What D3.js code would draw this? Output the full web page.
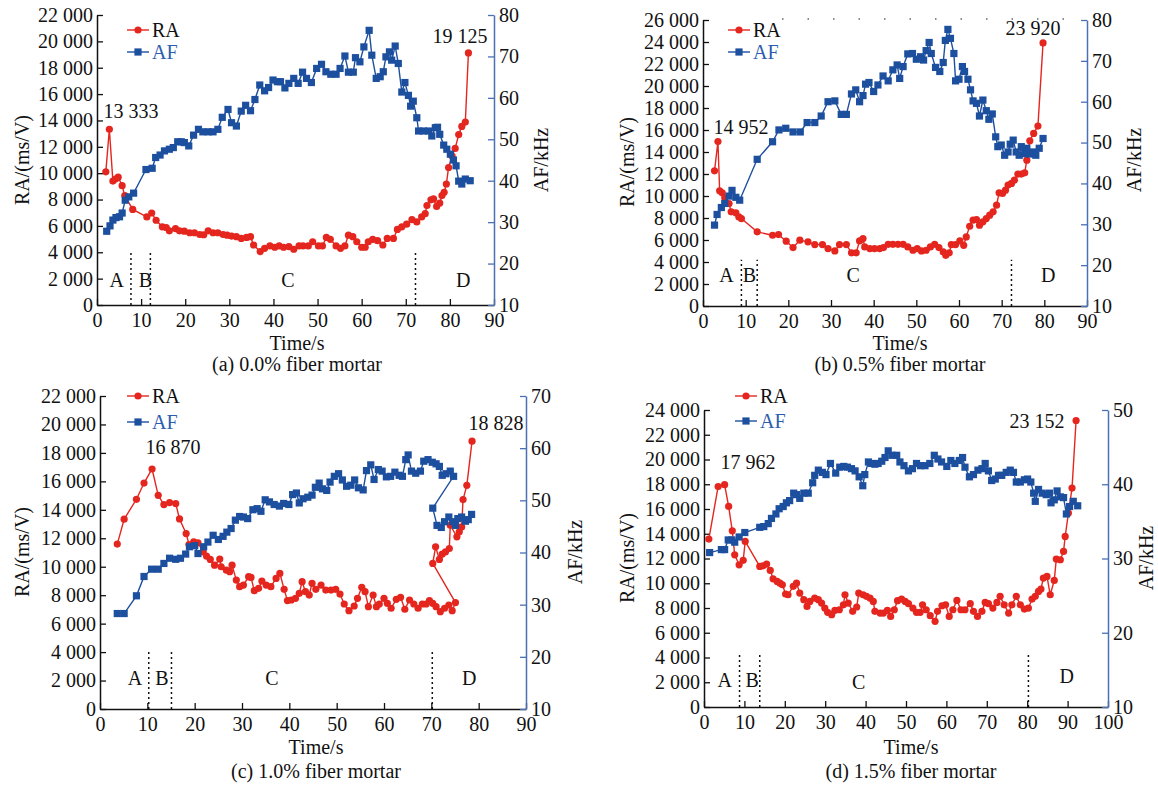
<!DOCTYPE html>
<html>
<head>
<meta charset="utf-8">
<script src="https://cdn.jsdelivr.net/npm/d3@7"></script>
<style>
  body { margin: 0; background: #fff; }
  svg { display: block; }
  text { font-family: "Liberation Serif", "Times New Roman", serif; }
</style>
</head>
<body>
<svg id="svg" width="1158" height="785"></svg>
<script>
// colors
let red = "#e4261f"
let blue = "#1d4f9f"
let axisBlue = "#4a70b6"
let legendBlue = "#2b5cb0"

// ---- data: [time (s), value] ----
// (a) 0.0% fiber
let raA = [[2.0,10100],[2.8,13333],[3.6,9400],[4.2,9550],[4.8,9700],[5.7,9050],[6.3,8300],[8.1,7250],[11.3,6680],[12.4,6980],[13.4,6430],[14.8,5930],[15.7,5880],[16.4,5630],[17.8,5800],[18.7,5630],[19.8,5600],[21.0,5480],[22.1,5480],[23.3,5350],[24.2,5330],[25.2,5630],[26.3,5480],[27.4,5480],[28.6,5350],[29.5,5300],[30.5,5230],[31.6,5180],[32.7,5050],[33.9,5130],[34.8,5180],[35.5,4550],[37.0,4050],[38.0,4300],[39.2,4480],[40.3,4380],[41.3,4480],[42.3,4380],[43.5,4430],[44.6,4230],[45.8,4480],[46.7,4480],[47.9,4480],[48.9,4800],[50.2,4480],[51.1,4480],[52.0,5130],[52.9,4980],[54.2,4480],[55.2,4300],[56.2,4480],[57.0,5300],[58.0,5180],[58.9,4800],[60.0,4380],[60.8,4380],[61.5,4800],[62.5,4980],[63.6,4880],[64.8,4550],[65.8,5050],[67.2,5050],[68.1,5730],[69.1,5930],[70.2,6130],[71.4,6480],[72.5,6300],[73.6,6680],[74.4,6930],[74.8,7550],[75.7,7980],[76.3,8050],[77.0,7480],[77.7,7730],[78.2,8300],[78.7,8550],[79.2,9180],[79.7,10430],[80.5,11300],[81.2,11880],[82.0,12930],[82.7,13550],[83.5,13880],[84.2,19125]]
let afA = [[2.2,27.8],[2.95,29.1],[3.6,30.5],[4.3,31.1],[5.1,31.3],[5.7,32.2],[6.4,35.3],[7.2,36.1],[8.3,37.0],[11.1,42.7],[12.5,43.0],[13.3,45.6],[14.3,46.2],[15.3,47.2],[16.4,47.6],[17.3,48.0],[18.3,49.4],[19.1,49.4],[19.8,49.2],[20.8,48.4],[21.9,51.0],[23.0,52.4],[24.0,51.8],[25.2,51.8],[26.3,51.8],[27.4,52.4],[28.4,55.3],[29.7,57.2],[30.5,54.0],[31.6,53.2],[32.7,56.8],[33.7,58.2],[34.8,56.9],[35.8,59.6],[36.9,63.1],[38.0,61.7],[38.9,62.5],[39.9,64.3],[40.9,63.9],[41.6,63.9],[42.6,62.4],[43.5,63.5],[44.6,64.7],[45.6,63.5],[46.6,66.2],[47.5,64.7],[48.6,63.7],[49.8,67.1],[50.9,68.1],[51.9,66.3],[53.0,65.7],[54.2,65.7],[55.1,67.1],[56.2,70.1],[57.0,66.2],[58.1,66.2],[58.6,69.7],[59.6,68.7],[60.5,72.3],[61.7,76.3],[62.3,70.3],[63.3,64.7],[64.2,65.1],[64.9,66.3],[65.5,69.9],[66.3,71.1],[66.8,69.1],[67.6,72.5],[68.3,68.3],[69.1,61.4],[69.8,63.7],[70.6,60.6],[71.1,58.0],[71.7,59.2],[72.5,55.2],[72.9,52.0],[74.0,52.0],[75.2,52.0],[75.9,50.8],[76.7,52.8],[77.2,52.9],[77.7,51.2],[78.6,48.6],[79.3,47.6],[80.1,46.4],[80.8,45.0],[81.4,43.6],[82.0,39.9],[82.7,39.2],[83.5,40.4],[84.6,40.0]]

// (b) 0.5% fiber
let raB = [[2.7,12290],[3.5,14952],[3.9,10470],[4.5,10290],[5.1,9830],[6.1,9320],[6.6,8560],[7.7,8470],[8.4,8100],[9.0,7950],[12.7,6740],[16.3,6430],[17.7,6490],[19.5,5890],[21.1,5310],[22.7,5980],[24.6,5830],[26.2,5580],[28.0,5580],[29.3,5220],[30.9,5010],[32.0,5580],[33.6,5580],[34.8,4830],[35.9,4830],[36.7,5920],[37.5,6130],[37.9,5370],[39.1,5220],[40.2,5220],[41.4,5220],[42.3,5310],[43.4,5610],[44.5,5610],[45.7,5610],[46.9,5610],[48.0,5370],[49.2,5070],[50.2,5220],[51.2,5010],[52.3,5070],[53.3,5370],[54.3,5610],[55.3,5310],[56.3,4920],[56.9,4610],[57.7,4830],[58.2,5580],[59.2,5580],[60.2,5920],[61.1,5520],[61.7,6280],[62.5,7250],[63.3,7800],[64.1,7860],[64.8,7340],[65.6,7650],[66.4,7950],[67.2,8260],[68.0,8560],[68.8,9170],[69.4,10290],[70.2,10230],[70.9,10530],[71.5,10990],[72.3,11140],[73.0,11440],[73.8,11990],[74.6,11990],[75.4,12110],[75.9,13260],[76.6,15020],[77.5,15690],[78.5,16360],[79.7,23920]]
let afB = [[2.7,29.8],[3.3,32.4],[4.3,34.1],[5.1,35.1],[6.1,36.9],[6.8,38.3],[7.7,36.6],[8.6,35.9],[12.7,45.9],[16.3,50.2],[17.8,53.1],[19.4,53.5],[21.1,52.6],[22.8,52.6],[24.4,54.9],[26.2,54.9],[27.7,56.5],[29.3,60.0],[30.9,60.2],[32.4,56.9],[33.6,56.9],[34.8,61.9],[35.8,62.9],[36.7,60.0],[37.5,61.5],[38.1,64.3],[38.9,64.7],[40.0,62.5],[41.0,64.1],[42.2,66.3],[43.4,65.1],[44.5,67.8],[45.5,69.0],[46.1,65.7],[46.9,68.6],[48.0,71.7],[49.1,71.8],[50.0,70.4],[51.0,71.0],[51.7,70.2],[52.3,72.5],[53.0,74.5],[53.5,71.8],[54.5,68.4],[55.5,67.4],[56.3,69.6],[56.8,75.0],[57.4,77.7],[58.0,75.5],[58.8,71.8],[59.2,65.1],[60.0,65.5],[60.8,68.6],[61.3,67.4],[62.1,65.5],[62.7,62.9],[63.3,60.2],[64.1,59.6],[64.8,56.5],[65.6,60.4],[66.4,57.8],[67.0,55.7],[67.8,57.0],[68.6,51.4],[69.1,49.0],[69.9,49.4],[70.7,46.9],[71.5,47.7],[72.0,49.6],[72.7,50.6],[73.4,47.7],[74.1,46.9],[74.6,49.0],[75.4,47.3],[75.9,48.6],[76.6,47.2],[77.3,47.7],[78.0,46.9],[78.8,48.6],[79.7,51.0]]

// (c) 1.0% fiber (series steps back in time near 70 s)
let raC = [[3.65,11590],[5.1,13340],[7.7,14740],[9.3,15880],[11.0,16870],[12.3,15020],[13.5,14370],[14.7,14510],[16.0,14440],[16.8,13360],[18.2,12330],[18.8,11560],[19.8,11750],[20.7,11680],[21.8,11050],[22.5,10750],[23.3,10510],[24.2,10110],[25.3,10540],[25.6,10000],[26.7,9760],[27.4,9650],[27.9,10110],[28.8,9060],[29.5,8600],[30.3,8710],[31.4,9300],[31.9,9250],[32.6,8320],[33.5,8480],[34.2,8990],[35.1,8710],[36.1,8600],[37.2,9180],[38.0,9530],[38.9,8410],[39.6,7620],[40.4,7660],[41.3,7780],[42.1,8130],[42.7,8950],[43.4,8250],[44.2,8010],[44.8,8830],[45.6,8410],[46.7,8710],[47.7,8360],[48.8,8360],[49.8,8410],[50.7,8080],[51.6,7380],[52.6,6910],[53.7,7240],[54.4,7780],[55.3,8550],[56.0,8250],[56.7,7190],[57.7,8010],[58.4,7190],[59.0,7380],[60.0,7780],[60.7,7430],[61.5,7080],[62.6,7710],[63.5,7850],[64.4,7010],[65.4,7660],[66.3,7380],[67.2,7080],[68.1,7380],[68.9,7380],[69.6,7620],[70.3,7430],[71.0,7190],[71.9,6840],[72.8,7080],[73.7,7310],[74.4,6910],[75.1,7480],[70.3,10230],[70.9,11400],[71.7,10510],[72.3,10890],[73.0,11050],[73.8,11280],[74.0,12920],[75.4,12100],[75.9,12450],[76.4,12800],[76.7,14720],[77.5,15720],[78.6,18828]]
let afC = [[3.65,28.3],[5.1,28.3],[7.7,31.7],[9.3,35.4],[10.9,36.8],[12.3,36.8],[13.5,37.9],[14.7,38.9],[16.0,38.7],[17.0,38.9],[18.1,39.7],[18.9,41.1],[20.0,41.3],[20.7,39.8],[21.9,41.1],[22.8,42.0],[23.9,43.3],[25.0,42.5],[26.0,43.1],[26.8,43.9],[27.7,44.6],[28.6,46.2],[29.5,46.9],[30.3,46.8],[31.2,46.5],[32.3,48.2],[33.2,48.4],[34.0,47.9],[34.9,50.1],[35.8,49.7],[36.8,49.2],[37.9,48.9],[38.8,49.4],[39.9,49.2],[40.7,51.1],[41.5,51.4],[42.1,49.5],[42.9,50.3],[43.9,50.6],[44.8,51.0],[45.5,52.5],[46.3,53.3],[47.0,52.2],[47.9,51.9],[48.6,53.5],[49.5,54.6],[50.4,55.1],[51.2,53.9],[52.1,52.7],[53.0,52.9],[53.8,53.9],[54.6,52.4],[55.6,52.0],[56.3,55.7],[57.2,56.8],[57.9,54.0],[58.8,55.9],[59.6,55.6],[60.5,54.5],[61.4,54.6],[62.3,55.4],[63.2,54.8],[63.9,54.6],[64.6,57.8],[65.1,58.7],[65.8,55.6],[66.7,55.2],[67.7,55.6],[68.4,57.5],[69.3,57.8],[70.2,57.3],[71.0,57.0],[71.7,56.5],[72.3,54.8],[73.1,55.1],[74.0,55.6],[74.7,54.6],[70.3,48.5],[71.2,45.2],[72.1,44.8],[72.8,45.9],[73.7,46.8],[74.5,45.9],[75.1,45.2],[75.6,46.5],[76.4,46.8],[77.2,46.0],[77.8,46.3],[78.5,47.3]]

// (d) 1.5% fiber
let raD = [[1.2,13570],[3.5,17820],[5.1,17962],[6.1,16210],[7.0,14240],[7.6,12300],[8.7,11490],[9.7,11850],[10.2,13380],[13.8,11360],[14.6,11410],[15.5,11550],[16.4,11040],[17.1,10360],[18.1,10150],[18.8,10010],[19.4,9880],[20.2,9130],[20.8,9070],[22.1,9750],[22.9,10010],[23.7,9210],[24.7,8670],[25.5,8130],[26.2,8530],[27.4,8800],[28.3,8670],[29.1,8400],[29.9,7990],[30.6,7650],[31.6,7460],[32.4,7810],[33.5,7860],[34.5,8260],[34.9,9070],[35.7,8400],[36.8,7730],[37.8,8080],[38.3,9210],[39.4,9070],[40.2,8940],[41.1,8800],[41.9,8530],[42.3,7730],[43.6,7590],[44.4,7590],[45.4,7810],[46.2,7320],[47.1,7860],[47.9,8590],[48.9,8720],[49.8,8530],[50.6,8350],[51.7,7990],[52.6,7650],[53.5,7650],[54.1,8260],[55.0,7860],[56.0,7380],[57.2,6920],[57.8,7730],[58.9,8180],[59.8,8260],[60.7,7320],[61.6,7860],[62.6,8610],[63.6,7860],[64.6,7860],[65.9,8350],[66.7,7730],[67.7,7320],[68.8,7730],[69.6,8450],[70.4,8350],[71.5,7990],[72.5,8450],[73.3,8940],[74.3,8260],[75.4,7590],[76.2,8260],[77.3,8940],[78.3,8260],[79.3,7910],[80.3,7990],[81.2,8720],[82.0,8940],[82.8,9340],[83.4,9530],[84.0,10420],[84.9,10550],[85.7,9070],[86.7,10230],[87.2,11950],[88.2,11900],[89.0,12570],[89.4,13780],[90.2,15670],[91.1,17690],[92.1,23152]]
let afD = [[1.4,30.8],[4.3,31.2],[5.1,31.2],[6.0,32.5],[6.9,32.5],[7.6,32.2],[8.7,32.9],[10.1,33.5],[13.8,34.2],[14.8,34.3],[15.9,34.7],[16.7,35.4],[17.8,36.0],[18.6,36.7],[19.6,37.0],[20.4,37.5],[21.2,37.8],[22.2,38.8],[22.9,38.6],[23.7,38.1],[24.7,38.8],[25.8,38.8],[26.9,40.2],[27.4,41.2],[28.3,41.9],[29.3,41.6],[30.2,41.3],[31.3,42.8],[32.6,41.5],[33.6,42.3],[34.6,42.4],[35.5,42.3],[36.5,42.1],[37.4,41.8],[38.4,41.0],[39.3,39.8],[39.8,41.3],[40.7,43.0],[41.5,42.8],[42.3,42.7],[43.1,42.8],[44.0,43.1],[44.8,43.6],[45.6,44.5],[46.5,43.9],[47.7,43.9],[48.5,43.0],[49.5,42.5],[50.6,41.8],[51.6,42.1],[52.6,42.8],[53.6,42.5],[54.7,42.5],[55.9,42.8],[57.0,43.9],[57.9,43.4],[58.8,43.0],[60.1,42.4],[61.1,43.2],[62.1,42.8],[63.2,43.2],[64.0,43.6],[64.6,42.3],[65.7,41.0],[66.7,41.3],[67.8,41.9],[68.8,42.1],[69.6,42.8],[70.4,41.8],[71.2,40.5],[72.1,40.7],[72.9,41.2],[73.7,41.2],[74.8,41.6],[75.8,41.9],[76.6,41.6],[77.3,40.3],[78.3,40.3],[79.3,40.6],[80.1,40.7],[80.9,40.3],[81.6,38.8],[82.0,37.7],[82.8,39.3],[83.7,38.8],[84.7,38.6],[85.5,38.8],[85.9,37.5],[86.7,37.9],[87.4,39.1],[88.2,38.3],[89.0,38.2],[89.7,36.0],[90.5,37.0],[91.4,37.7],[92.5,37.1]]

// phase boundaries (s) and stage labels [letter, time, RA level]
let phasesA = [7.7, 12.1, 72.2]
let phasesB = [9.0, 12.7, 72.3]
let phasesC = [10.3, 15.1, 70.2]
let phasesD = [8.8, 13.8, 80.3]
let stagesA = [["A",4.5,1900],["B",11.0,1900],["C",43.3,1900],["D",83.0,1900]]
let stagesB = [["A",5.5,2800],["B",10.9,2800],["C",35.2,2800],["D",80.9,2800]]
let stagesC = [["A",7.4,2170],["B",13.1,2170],["C",36.3,2170],["D",78.0,2170]]
let stagesD = [["A",5.1,2200],["B",11.9,2200],["C",38.3,2000],["D",89.8,2500]]

// peak annotations
let peaksA = ["13 333", "19 125"]
let peaksB = ["14 952", "23 920"]
let peaksC = ["16 870", "18 828"]
let peaksD = ["17 962", "23 152"]

let captions = ["(a) 0.0% fiber mortar", "(b) 0.5% fiber mortar", "(c) 1.0% fiber mortar", "(d) 1.5% fiber mortar"]

// panel layout
let panels = [
  { ra: raA, af: afA, phases: phasesA, stages: stagesA, peaks: peaksA, caption: captions[0],
    left: 97, right: 494, top: 15, bottom: 305, raMax: 22000, afMax: 80, xMax: 90, phaseTop: 4000,
    peakPos: [[131, 118], [460, 43]], raTitle: [22, 160], afTitle: [541, 160], timeY: 350, capY: 371, midX: 297,
    legend: [127, 30, 52] },
  { ra: raB, af: afB, phases: phasesB, stages: stagesB, peaks: peaksB, caption: captions[1],
    left: 703, right: 1087, top: 20, bottom: 306, raMax: 26000, afMax: 80, xMax: 90, phaseTop: 4200,
    peakPos: [[741, 134], [1033, 35]], raTitle: [627, 162], afTitle: [1134, 160], timeY: 350, capY: 371, midX: 900,
    legend: [728, 30, 52], topDots: true },
  { ra: raC, af: afC, phases: phasesC, stages: stagesC, peaks: peaksC, caption: captions[2],
    left: 100, right: 526, top: 396, bottom: 709, raMax: 22000, afMax: 70, xMax: 90, phaseTop: 4000,
    peakPos: [[173, 454], [496, 430]], raTitle: [22, 552], afTitle: [575, 552], timeY: 754, capY: 778, midX: 316,
    legend: [127, 396, 422] },
  { ra: raD, af: afD, phases: phasesD, stages: stagesD, peaks: peaksD, caption: captions[3],
    left: 704, right: 1108, top: 410, bottom: 707, raMax: 24000, afMax: 50, xMax: 100, phaseTop: 4300,
    peakPos: [[748, 469], [1037, 428]], raTitle: [627, 558], afTitle: [1146, 558], timeY: 754, capY: 778, midX: 911,
    legend: [735, 396, 421] }
]

let svg = d3.select("#svg")
let fmt = d => d3.format(",")(d).replace(/,/g, " ")
let fontSize = 20

function styleAxis(g, color) {
  g.selectAll("text").attr("font-size", fontSize).attr("font-family", "Liberation Serif").attr("fill", "#111")
  g.select(".domain").attr("stroke", color).attr("stroke-width", 1.5)
  g.selectAll(".tick line").attr("stroke", color).attr("stroke-width", 1.3)
}

panels.forEach(function (p) {
  let g = svg.append("g")
  let x = d3.scaleLinear().domain([0, p.xMax]).range([p.left, p.right])
  let yRA = d3.scaleLinear().domain([0, p.raMax]).range([p.bottom, p.top])
  let yAF = d3.scaleLinear().domain([10, p.afMax]).range([p.bottom, p.top])

  // axes (ticks point inward)
  g.append("g").attr("transform", `translate(0,${p.bottom})`)
    .call(d3.axisBottom(x).tickValues(d3.range(0, p.xMax + 1, 10)).tickSize(-6).tickSizeOuter(0).tickPadding(8))
    .call(a => styleAxis(a, "#111"))
  g.append("g").attr("transform", `translate(${p.left},0)`)
    .call(d3.axisLeft(yRA).tickValues(d3.range(0, p.raMax + 1, 2000)).tickFormat(fmt).tickSize(-6).tickSizeOuter(0).tickPadding(4))
    .call(a => styleAxis(a, "#111"))
  g.append("g").attr("transform", `translate(${p.right},0)`)
    .call(d3.axisRight(yAF).tickValues(d3.range(10, p.afMax + 1, 10)).tickSize(-6).tickSizeOuter(0).tickPadding(5))
    .call(a => styleAxis(a, axisBlue))

  if (p.topDots) {
    g.append("line").attr("x1", 782).attr("x2", 1080).attr("y1", 19).attr("y2", 19)
      .attr("stroke", "#666").attr("stroke-width", 1.5).attr("stroke-dasharray", "1.5,24")
  }

  // phase boundaries
  g.selectAll(".phase").data(p.phases).enter().append("line")
    .attr("x1", d => x(d)).attr("x2", d => x(d))
    .attr("y1", yRA(0)).attr("y2", yRA(p.phaseTop))
    .attr("stroke", "#111").attr("stroke-width", 1.5).attr("stroke-dasharray", "2,3")
  g.selectAll(".stage").data(p.stages).enter().append("text")
    .attr("x", d => x(d[1])).attr("y", d => yRA(d[2])).attr("dy", "0.35em")
    .attr("text-anchor", "middle").attr("font-size", fontSize).attr("fill", "#111")
    .text(d => d[0])

  // RA series
  let raLine = d3.line().x(d => x(d[0])).y(d => yRA(d[1]))
  g.append("path").datum(p.ra).attr("d", raLine)
    .attr("fill", "none").attr("stroke", red).attr("stroke-width", 1.4)
  g.selectAll(".ra").data(p.ra).enter().append("circle")
    .attr("cx", d => x(d[0])).attr("cy", d => yRA(d[1])).attr("r", 3.6).attr("fill", red)

  // AF series
  let afLine = d3.line().x(d => x(d[0])).y(d => yAF(d[1]))
  g.append("path").datum(p.af).attr("d", afLine)
    .attr("fill", "none").attr("stroke", blue).attr("stroke-width", 1.4)
  g.selectAll(".af").data(p.af).enter().append("rect")
    .attr("x", d => x(d[0]) - 3.6).attr("y", d => yAF(d[1]) - 3.6)
    .attr("width", 7.2).attr("height", 7.2).attr("fill", blue)

  // peak values
  p.peaks.forEach(function (t, i) {
    g.append("text").attr("x", p.peakPos[i][0]).attr("y", p.peakPos[i][1])
      .attr("text-anchor", "middle").attr("font-size", fontSize).attr("fill", "#111").text(t)
  })

  // legend
  let lx = p.legend[0]
  let lg = g.append("g")
  lg.append("line").attr("x1", lx).attr("x2", lx + 22).attr("y1", p.legend[1]).attr("y2", p.legend[1])
    .attr("stroke", red).attr("stroke-width", 1.4)
  lg.append("circle").attr("cx", lx + 11).attr("cy", p.legend[1]).attr("r", 3.6).attr("fill", red)
  lg.append("text").attr("x", lx + 25).attr("y", p.legend[1]).attr("dy", "0.35em")
    .attr("font-size", fontSize).attr("fill", "#111").text("RA")
  lg.append("line").attr("x1", lx).attr("x2", lx + 22).attr("y1", p.legend[2]).attr("y2", p.legend[2])
    .attr("stroke", blue).attr("stroke-width", 1.4)
  lg.append("rect").attr("x", lx + 7.4).attr("y", p.legend[2] - 3.6).attr("width", 7.2).attr("height", 7.2).attr("fill", blue)
  lg.append("text").attr("x", lx + 25).attr("y", p.legend[2]).attr("dy", "0.35em")
    .attr("font-size", fontSize).attr("fill", legendBlue).text("AF")

  // titles
  g.append("text").attr("transform", `translate(${p.raTitle[0]},${p.raTitle[1]}) rotate(-90)`)
    .attr("text-anchor", "middle").attr("dy", "0.35em").attr("font-size", fontSize).attr("fill", "#111")
    .text("RA/(ms/V)")
  g.append("text").attr("transform", `translate(${p.afTitle[0]},${p.afTitle[1]}) rotate(-90)`)
    .attr("text-anchor", "middle").attr("dy", "0.35em").attr("font-size", fontSize).attr("fill", "#111")
    .text("AF/kHz")
  g.append("text").attr("x", p.midX).attr("y", p.timeY).attr("text-anchor", "middle")
    .attr("font-size", fontSize).attr("fill", "#111").text("Time/s")
  g.append("text").attr("x", p.midX).attr("y", p.capY).attr("text-anchor", "middle")
    .attr("font-size", fontSize).attr("fill", "#111").text(p.caption)
})
</script>
</body>
</html>
